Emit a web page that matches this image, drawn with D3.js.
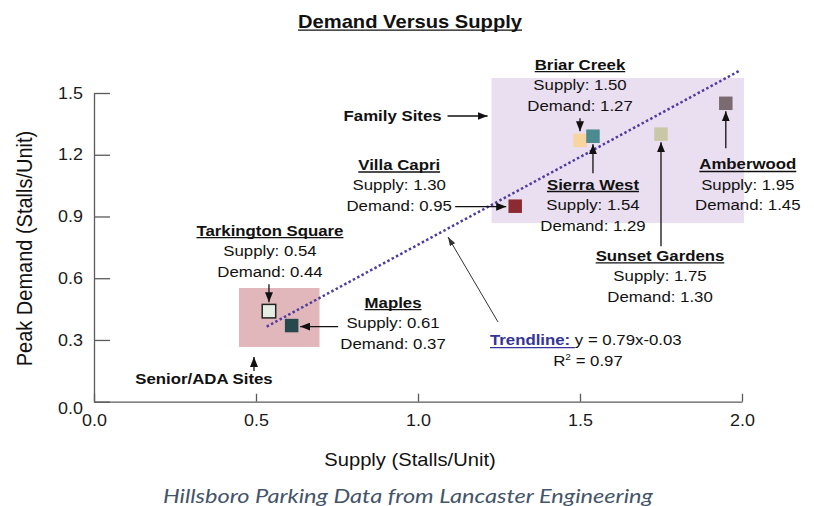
<!DOCTYPE html>
<html>
<head>
<meta charset="utf-8">
<script src="https://cdn.jsdelivr.net/npm/d3@7"></script>
<style>
  body { margin: 0; background: #fff; }
  svg { display: block; font-family: 'Liberation Sans', Arial, Helvetica, sans-serif; }
</style>
</head>
<body>
<div id="chart"></div>
<script>
// data
var sites = ["Tarkington Square", "Maples", "Villa Capri", "Briar Creek", "Sierra West", "Sunset Gardens", "Amberwood"];
var supply = [0.54, 0.61, 1.30, 1.50, 1.54, 1.75, 1.95];
var demand = [0.44, 0.37, 0.95, 1.27, 1.29, 1.30, 1.45];
var siteColors = ["#e4eee3", "#27484d", "#8b2a31", "#f8d59f", "#4b8a8f", "#c8c7a8", "#7b6b70"];

var xTicks = [0, 0.5, 1.0, 1.5, 2.0];
var yTicks = [0, 0.3, 0.6, 0.9, 1.2, 1.5];

var trendX = [0.533, 1.991];
var trendY = [0.365, 1.607];
var trendText = "y = 0.79x-0.03";
var r2Text = "0.97";

var groupNames = ["Family Sites", "Senior/ADA Sites"];
var groupX = [[1.227, 2.006], [0.4475, 0.696]];
var groupY = [[0.868, 1.573], [0.266, 0.5525]];
var groupColors = ["#eadff0", "#e2b7bb"];

// label layout, pixel offsets from each square: [label dx, label dy, arrow x1, y1, x2, y2]
var siteLayout = [
    [1, -75.6, 0, -27, 0, -9],
    [101.4, -18, 46.5, 1, 8.5, 1],
    [-116, -36.2, -60, 0.5, -9, 0.5],
    [0, -70.8, 0, -22, 0, -9],
    [0, 53.3, 0, 37, 0, 8],
    [-1, 126.8, 0, 112, 0, 8],
    [22, 66.2, 0, 45, 0, 8]
];

var SX = 1.12;   // text in the picture is a bit wide
var W = 814, H = 506;

var svg = d3.select('#chart').append('svg')
    .attr('width', W)
    .attr('height', H);

var defs = svg.append('defs');
defs.append('marker').attr('id', 'arr')
    .attr('viewBox', '0 0 10 8').attr('refX', 10).attr('refY', 4)
    .attr('markerWidth', 10).attr('markerHeight', 8)
    .attr('markerUnits', 'userSpaceOnUse').attr('orient', 'auto')
    .append('path').attr('d', 'M0,0L10,4L0,8Z').attr('fill', '#111');
defs.append('marker').attr('id', 'arr2')
    .attr('viewBox', '0 0 9 6').attr('refX', 9).attr('refY', 3)
    .attr('markerWidth', 9).attr('markerHeight', 6)
    .attr('markerUnits', 'userSpaceOnUse').attr('orient', 'auto')
    .append('path').attr('d', 'M0,0L9,3L0,6Z').attr('fill', '#333');

var x = d3.scaleLinear().domain([0, 2]).range([94, 742]);
var y = d3.scaleLinear().domain([0, 1.5]).range([401.7, 93]);

function label(g, px, py, str, o) {
    var anchor = o.anchor || 'middle';
    var t = g.append('g').attr('transform', 'translate(' + px + ',' + py + ') scale(' + SX + ',1)');
    var text = t.append('text')
        .attr('text-anchor', anchor)
        .style('font-size', o.size + 'px')
        .style('font-weight', o.bold ? 'bold' : 'normal')
        .attr('fill', o.color || '#111')
        .text(str);
    if (o.underline) {
        var w = text.node().getComputedTextLength() + (o.extra || 0);
        var x0 = anchor == 'middle' ? -w / 2 : (anchor == 'end' ? -w : 0);
        t.append('line')
            .attr('x1', x0).attr('x2', x0 + w)
            .attr('y1', o.uy || 2).attr('y2', o.uy || 2)
            .attr('stroke', o.color || '#111')
            .attr('stroke-width', 1.3);
    }
    return text;
}

function stretch(sel) {
    sel.each(function () {
        var t = d3.select(this);
        var tx = +t.attr('x') || 0, ty = +t.attr('y') || 0;
        t.attr('x', 0).attr('y', 0)
            .attr('transform', 'translate(' + tx + ',' + ty + ') scale(' + SX + ',1)');
    });
}

// group boxes
var boxes = svg.append('g');
boxes.selectAll('rect')
    .data(d3.range(groupNames.length))
    .enter()
    .append('rect')
    .attr('x', (d) => x(groupX[d][0]))
    .attr('y', (d) => y(groupY[d][1]))
    .attr('width', (d) => x(groupX[d][1]) - x(groupX[d][0]))
    .attr('height', (d) => y(groupY[d][0]) - y(groupY[d][1]))
    .attr('fill', (d, i) => groupColors[i]);

// axes
var yAxis = svg.append('g')
    .attr('transform', 'translate(' + x(0) + ',0)')
    .call(d3.axisLeft(y).tickValues(yTicks).tickFormat(d3.format('.1f'))
        .tickSize(-16).tickSizeOuter(0).tickPadding(11));
var xAxis = svg.append('g')
    .attr('transform', 'translate(0,' + y(0) + ')')
    .call(d3.axisBottom(x).tickValues(xTicks).tickFormat(d3.format('.1f'))
        .tickSize(-8).tickSizeOuter(0).tickPadding(12.6));
[yAxis, xAxis].forEach(function (a) {
    a.select('.domain').attr('stroke', '#5a5a5a').attr('stroke-width', 1.3);
    a.selectAll('.tick line').attr('stroke', '#5a5a5a').attr('stroke-width', 1.3);
    a.selectAll('.tick text').style('font-size', '16px').attr('fill', '#1a1a1a')
        .style('font-family', "'Liberation Sans', Arial, Helvetica, sans-serif");
    a.attr('font-family', null).attr('font-size', null);
});
// the 0.0 on the y axis sits a little low, under the corner
yAxis.selectAll('.tick text').filter((d) => d === 0).attr('dy', '0.74em');
stretch(yAxis.selectAll('.tick text'));
stretch(xAxis.selectAll('.tick text'));

// axis titles
svg.append('g')
    .attr('transform', 'translate(32,248.5) scale(' + SX + ',1) rotate(-90)')
    .append('text')
    .attr('text-anchor', 'middle')
    .style('font-size', '20px')
    .attr('fill', '#111')
    .text('Peak Demand (Stalls/Unit)');
label(svg, 410, 466, 'Supply (Stalls/Unit)', { size: 18 });

// title
label(svg, 410, 27.5, 'Demand Versus Supply', { size: 18, bold: true, underline: true, uy: 2.6 });

// trendline
var trend = d3.range(trendX.length).map((i) => [trendX[i], trendY[i]]);
svg.append('path')
    .datum(trend)
    .attr('d', d3.line().x((d) => x(d[0])).y((d) => y(d[1])))
    .attr('fill', 'none')
    .attr('stroke', '#4e3ca0')
    .attr('stroke-width', 2.5)
    .attr('stroke-dasharray', '2.5,2.4');

// squares
var S = 13.5;
svg.selectAll('rect.site')
    .data(d3.range(sites.length))
    .enter()
    .append('rect')
    .attr('class', 'site')
    .attr('x', (d) => x(supply[d]) - S / 2)
    .attr('y', (d) => y(demand[d]) - S / 2)
    .attr('width', S)
    .attr('height', S)
    .attr('fill', (d) => siteColors[d])
    .attr('stroke', (d) => d == 0 ? '#222' : 'none')
    .attr('stroke-width', 1.5);

// site labels and arrows
var notes = svg.append('g');
sites.forEach(function (name, i) {
    var px = x(supply[i]), py = y(demand[i]);
    var L = siteLayout[i];
    var lx = px + L[0], ly = py + L[1];
    label(notes, lx, ly, name, { size: 15, bold: true, underline: true, uy: 2 });
    label(notes, lx, ly + 20.5, 'Supply: ' + supply[i].toFixed(2), { size: 15 });
    label(notes, lx, ly + 41, 'Demand: ' + demand[i].toFixed(2), { size: 15 });
    notes.append('line')
        .attr('x1', px + L[2]).attr('y1', py + L[3])
        .attr('x2', px + L[4]).attr('y2', py + L[5])
        .attr('stroke', '#111').attr('stroke-width', 1.3)
        .attr('marker-end', 'url(#arr)');
});

// group labels
var fx = x(groupX[0][0]), fy = y(groupY[0][1]);
label(notes, fx - 50, fy + 43, groupNames[0], { size: 15, bold: true, anchor: 'end' });
notes.append('line')
    .attr('x1', fx - 44).attr('y1', fy + 38).attr('x2', fx - 4).attr('y2', fy + 38)
    .attr('stroke', '#111').attr('stroke-width', 1.3).attr('marker-end', 'url(#arr)');
var sx0 = x(groupX[1][0]), sy0 = y(groupY[1][0]);
label(notes, sx0 - 35, sy0 + 37, groupNames[1], { size: 15, bold: true });
notes.append('line')
    .attr('x1', sx0 + 15).attr('y1', sy0 + 24).attr('x2', sx0 + 15).attr('y2', sy0 + 10)
    .attr('stroke', '#111').attr('stroke-width', 1.3).attr('marker-end', 'url(#arr)');

// trendline note
var tg = notes.append('g').attr('transform', 'translate(490,345.3) scale(' + SX + ',1)');
var tt = tg.append('text').style('font-size', '15px');
var t1 = tt.append('tspan').style('font-weight', 'bold').attr('fill', '#34349a').text('Trendline:');
tt.append('tspan').attr('fill', '#111').text(' ' + trendText);
var tw = t1.node().getComputedTextLength() + 4.2;
tg.append('line').attr('x1', 0).attr('x2', tw).attr('y1', 2.4).attr('y2', 2.4)
    .attr('stroke', '#34349a').attr('stroke-width', 1.3);
var rg = notes.append('g').attr('transform', 'translate(588,366) scale(' + SX + ',1)');
var rt = rg.append('text').attr('text-anchor', 'middle').style('font-size', '15px').attr('fill', '#111');
rt.append('tspan').text('R');
rt.append('tspan').attr('dy', -6).style('font-size', '9px').text('2');
rt.append('tspan').attr('dy', 6).text(' = ' + r2Text);
notes.append('line')
    .attr('x1', 498).attr('y1', 322).attr('x2', 448).attr('y2', 237)
    .attr('stroke', '#333').attr('stroke-width', 1)
    .attr('marker-end', 'url(#arr2)');

// caption
svg.append('text')
    .attr('x', 408)
    .attr('y', 503)
    .attr('text-anchor', 'middle')
    .attr('textLength', 490)
    .attr('lengthAdjust', 'spacingAndGlyphs')
    .style('font-family', "Lato, 'Open Sans', sans-serif")
    .style('font-style', 'italic')
    .style('font-size', '19px')
    .attr('fill', '#44546a')
    .text('Hillsboro Parking Data from Lancaster Engineering');
</script>
</body>
</html>
